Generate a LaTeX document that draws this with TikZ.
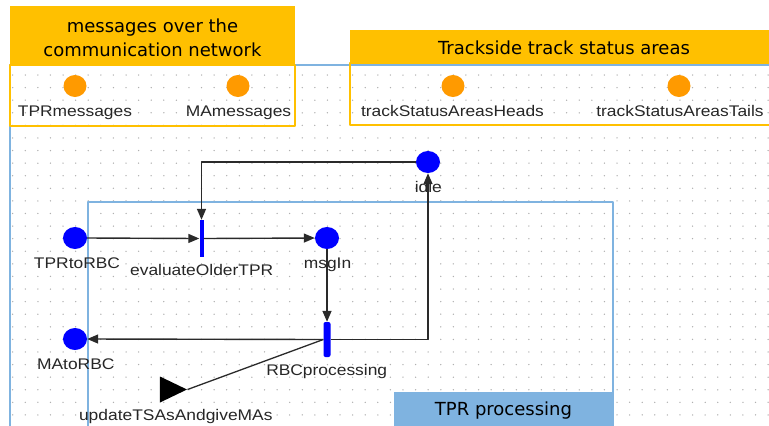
\documentclass[tikz,border=0pt]{standalone}
\usepackage{fontspec}
\usetikzlibrary{arrows.meta,shapes.geometric}
\newfontfamily\labelfont[FakeStretch=1.13]{Liberation Sans}
\newfontfamily\headfont{DejaVu Sans}
\definecolor{headorange}{HTML}{FFC000}
\definecolor{tokenorange}{HTML}{FF9A00}
\definecolor{framblue}{HTML}{7FB3E0}
\definecolor{arcgray}{HTML}{2A2A2A}
\definecolor{dotgray}{HTML}{B0B0B0}
\tikzset{
  place/.style={ellipse, fill=blue, minimum width=24bp, minimum height=22bp, inner sep=0},
  token/.style={ellipse, fill=tokenorange, minimum width=23bp, minimum height=22bp, inner sep=0},
  trans/.style={rectangle, fill=blue, minimum width=4bp, minimum height=37bp, inner sep=0},
  arc/.style={draw=arcgray, line width=1.4bp, -{Triangle[length=11bp,width=9bp]}},
  headtext/.style={font=\headfont\fontsize{18bp}{24bp}\selectfont, align=center, inner sep=0},
  lbl/.style={anchor=base, inner sep=0, font=\labelfont\fontsize{15.4bp}{18bp}\selectfont, text=black!85},
}

\begin{document}
\begin{tikzpicture}[x=1bp, y=-1bp, line join=round]
    \useasboundingbox (0,0) rectangle (769,425);
    % dotted canvas
    \foreach \i in {0,...,60}
      \foreach \j in {0,...,27}
        \fill[dotgray] (12.7+12.59*\i, 75+12.59*\j) circle (0.75bp);
    \draw[framblue, line width=1.2bp] (10,440) -- (10,65) -- (790,65);
    % TPR processing frame
    \draw[framblue, line width=1.6bp] (88,440) -- (88,202) -- (613,202) -- (613,440);
    \fill[framblue] (394,392) rectangle (613,440);
    \node[headtext] (tprlbl) at (503.5,411) {TPR processing};
    % communication network box
    \fill[headorange] (10,6) rectangle (295,65);
    \node[headtext] (netlbl) at (152.5,38) {messages over the\\communication network};
    \draw[headorange, line width=2bp] (10,65) rectangle (295,126);
    % trackside box
    \fill[headorange] (350,30) rectangle (790,63);
    \node[headtext] (tsalbl) at (564,47.5) {Trackside track status areas};
    \draw[headorange, line width=2bp] (350,63) rectangle (790,125);
    % tokens
    \node[token] (tprmsg) at (75,86) {};
    \node[token] (mamsg) at (238,86) {};
    \node[token] (heads) at (453,86) {};
    \node[token] (tails) at (679,86) {};
    \node[lbl] (tprmsg-l) at (75,116) {TPRmessages};
    \node[lbl] (mamsg-l) at (238.5,116) {MAmessages};
    \node[lbl] (heads-l) at (452.5,116.5) {trackStatusAreasHeads};
    \node[lbl] (tails-l) at (680,116.5) {trackStatusAreasTails};
    % places
    \node[place] (tprtorbc) at (75,238) {};
    \node[place] (msgin) at (327,238) {};
    \node[place] (idle) at (428,162) {};
    \node[place] (matorbc) at (75,339) {};
    \node[lbl] (tprtorbc-l) at (77,268.3) {TPRtoRBC};
    \node[lbl] (msgin-l) at (327.5,268.3) {msgIn};
    \node[lbl] (idle-l) at (428.3,192.7) {idle};
    \node[lbl] (matorbc-l) at (75.8,369.3) {MAtoRBC};
    % transitions
    \node[trans] (evaltpr) at (201.5,238.5) {};
    \node[trans, minimum width=7bp, minimum height=35bp, rounded corners=2bp] (rbcproc) at (327,339.5) {};
    \node[isosceles triangle, isosceles triangle stretches, fill=black, minimum width=26bp, minimum height=27bp, inner sep=0, anchor=apex] (update) at (187.5,389.5) {};
    \node[lbl] (evaltpr-l) at (201.7,275) {evaluateOlderTPR};
    \node[lbl] (rbcproc-l) at (326.7,375) {RBCprocessing};
    \node[lbl] (update-l) at (175.8,420) {updateTSAsAndgiveMAs};
    % arcs
    \draw[arc] (tprtorbc.east) -- (evaltpr.west);
    \draw[arc] (evaltpr.east) -- (msgin.west);
    \draw[arc] (idle.west) -| (evaltpr.north);
    \draw[arc] (msgin.south) -- (rbcproc.north);
    \draw[arc] (rbcproc.west) -- (matorbc.east);
    \draw[arc] (rbcproc.east) -| (idle.south);
    \draw[draw=arcgray, line width=1.3bp] (rbcproc.west) -- (update.apex);
  \end{tikzpicture}
\end{document}
